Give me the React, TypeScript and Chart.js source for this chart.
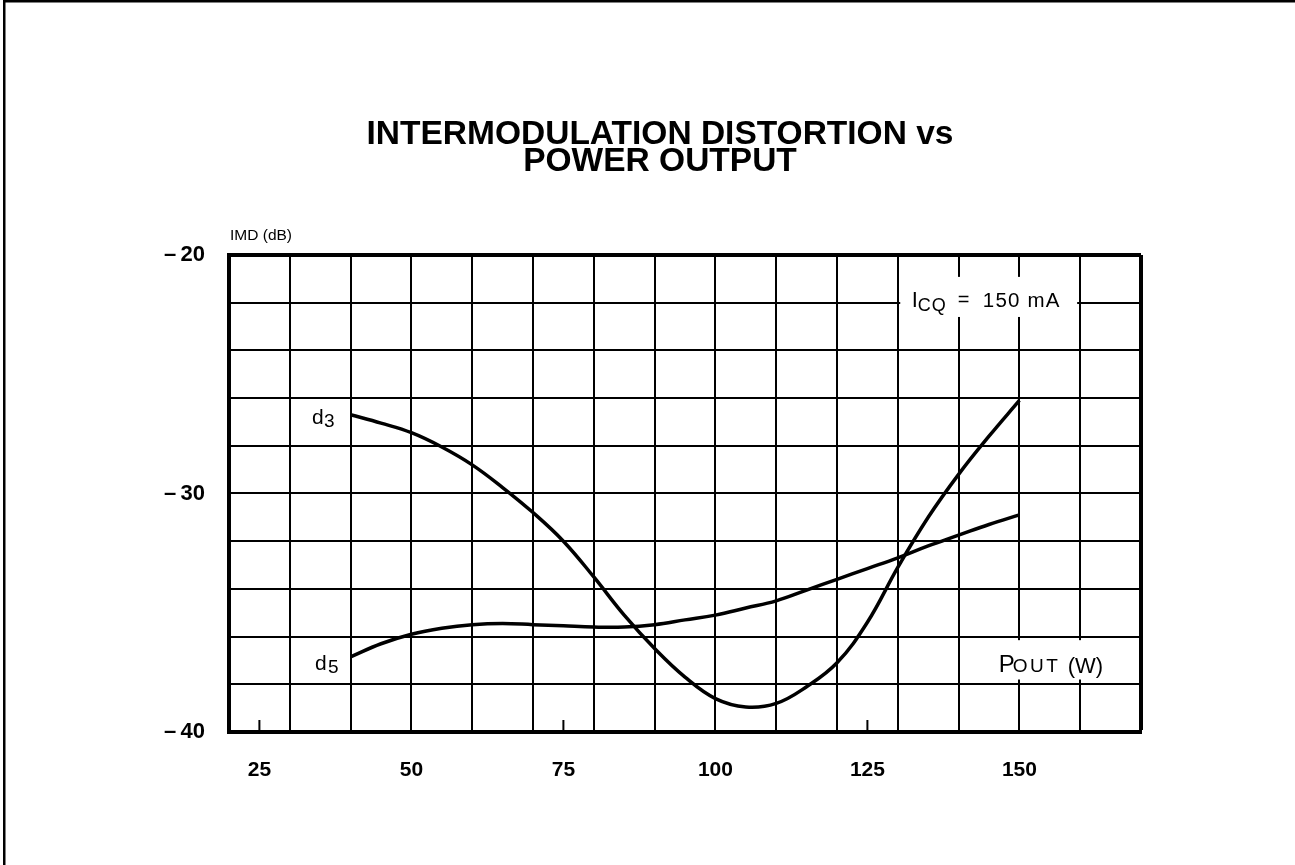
import React, { useEffect, useRef } from "react";
import { Chart, registerables } from "chart.js";

Chart.register(...registerables);

// ---- data ----
const powerOut = [40, 45, 50, 55, 60, 65, 70, 75, 80, 85, 90, 95, 100, 105, 110, 115, 120, 125, 130, 135, 140, 145, 150];
const d3Values = [-26.7, -27.05, -27.45, -28.05, -28.8, -29.75, -30.8, -32.0, -33.5, -35.1, -36.5, -37.7, -38.6, -38.95, -38.8, -38.1, -37.1, -35.4, -33.1, -31.0, -29.2, -27.6, -26.1];
const d5Values = [-36.85, -36.3, -35.9, -35.65, -35.5, -35.45, -35.5, -35.55, -35.6, -35.6, -35.5, -35.3, -35.1, -34.8, -34.5, -34.05, -33.6, -33.15, -32.7, -32.2, -31.75, -31.3, -30.9];
const xTickLabels = [25, 50, 75, 100, 125, 150];
const xMinorMarks = [25, 75, 125];
const yTickLabels = [-20, -30, -40];
const titleLines = ["INTERMODULATION DISTORTION vs", "POWER OUTPUT"];

const FONT = "'Liberation Sans', Arial, Helvetica, sans-serif";

type Part = { text: string; size: number; dx: number; dy: number; ls?: number };

function drawParts(ctx: CanvasRenderingContext2D, x: number, y: number, parts: Part[]) {
  for (const p of parts) {
    ctx.font = `${p.size}px ${FONT}`;
    (ctx as any).letterSpacing = `${p.ls || 0}px`;
    ctx.fillText(p.text, x + p.dx, y + p.dy);
  }
  (ctx as any).letterSpacing = "0px";
}

const decorPlugin = {
  id: "decor",
  beforeDraw(chart: any) {
    const { ctx, width, height } = chart;
    ctx.save();
    ctx.fillStyle = "#fff";
    ctx.fillRect(0, 0, width, height);
    ctx.fillStyle = "#000";
    ctx.fillRect(3, 0, width - 3, 2.5);
    ctx.fillRect(3, 0, 2.5, height);
    ctx.restore();
  },
  beforeDatasetsDraw(chart: any) {
    const { ctx, chartArea } = chart;
    const xs = chart.scales.x;
    const ys = chart.scales.y;
    const px = (v: number) => xs.getPixelForValue(v);
    const py = (v: number) => ys.getPixelForValue(v);
    ctx.save();
    // minor tick marks at bottom
    ctx.strokeStyle = "#000";
    ctx.lineWidth = 2;
    for (const v of xMinorMarks) {
      const x = px(v);
      ctx.beginPath();
      ctx.moveTo(x, chartArea.bottom);
      ctx.lineTo(x, chartArea.bottom - 12);
      ctx.stroke();
    }
    // white boxes behind in-plot labels
    ctx.fillStyle = "#fff";
    ctx.fillRect(px(130.4), py(-20.92), px(159.5) - px(130.4), py(-22.6) - py(-20.92));
    ctx.fillRect(px(146), py(-36.15), px(164.5) - px(146), py(-37.8) - py(-36.15));

    ctx.fillStyle = "#000";
    ctx.textBaseline = "alphabetic";
    ctx.textAlign = "left";
    // axis title
    drawParts(ctx, chartArea.left + 1, chartArea.top - 15, [{ text: "IMD (dB)", size: 15.5, dx: 0, dy: 0 }]);
    // ICQ = 150 mA
    drawParts(ctx, px(132.3), py(-22.18), [
      { text: "I", size: 22, dx: 0, dy: 0 },
      { text: "CQ", size: 18, dx: 6, dy: 4, ls: 1 },
      { text: "=", size: 20, dx: 46, dy: -1 },
      { text: "150 mA", size: 20.5, dx: 71, dy: 0, ls: 1.2 },
    ]);
    // POUT (W)
    drawParts(ctx, px(146.6), py(-37.5), [
      { text: "P", size: 24, dx: 0, dy: 0 },
      { text: "OUT", size: 19, dx: 14, dy: 0, ls: 2.5 },
      { text: "(W)", size: 22, dx: 69, dy: 1 },
    ]);
    // d3 / d5 labels
    drawParts(ctx, px(33.65), py(-27.1), [
      { text: "d", size: 21, dx: 0, dy: 0 },
      { text: "3", size: 19, dx: 12, dy: 3 },
    ]);
    drawParts(ctx, px(33.65), py(-37.38), [
      { text: "d", size: 21, dx: 3, dy: 0 },
      { text: "5", size: 19, dx: 16, dy: 3 },
    ]);
    ctx.restore();
  },
};

export default function App() {
  const ref = useRef<HTMLCanvasElement>(null);
  useEffect(() => {
    if (!ref.current) return;
    const chart = new Chart(ref.current, {
      type: "line",
      data: {
        datasets: [
          {
            label: "d3",
            data: powerOut.map((x, i) => ({ x, y: d3Values[i] })),
            borderColor: "#000",
            borderWidth: 3.5,
            pointRadius: 0,
            tension: 0.4,
            fill: false,
          },
          {
            label: "d5",
            data: powerOut.map((x, i) => ({ x, y: d5Values[i] })),
            borderColor: "#000",
            borderWidth: 3.5,
            pointRadius: 0,
            tension: 0.4,
            fill: false,
          },
        ],
      },
      options: {
        animation: false,
        responsive: false,
        devicePixelRatio: 1,
        layout: { padding: { top: 121, right: 0, bottom: 73, left: 25 } },
        plugins: {
          legend: { display: false },
          tooltip: { enabled: false },
          title: {
            display: true,
            text: titleLines,
            color: "#000",
            font: { family: FONT, size: 33.5, weight: "bold", lineHeight: 0.82 },
            padding: { top: 0, bottom: 79 },
          },
        },
        scales: {
          x: {
            type: "linear",
            min: 20,
            max: 170,
            afterFit: (s: any) => {
              s.height = 60;
            },
            border: { display: true, color: "#000", width: 4 },
            grid: {
              drawTicks: false,
              color: (c: any) => (c.tick && c.tick.value % 10 === 0 ? "#000" : "rgba(0,0,0,0)"),
              lineWidth: (c: any) => (c.tick && c.tick.value === 170 ? 4 : 2),
            },
            ticks: {
              stepSize: 5,
              autoSkip: false,
              maxRotation: 0,
              padding: 26,
              color: "#000",
              font: { family: FONT, size: 21, weight: "bold" },
              callback: (v: any) => (xTickLabels.includes(Number(v)) ? String(v) : ""),
            },
          },
          y: {
            type: "linear",
            min: -40,
            max: -20,
            afterFit: (s: any) => {
              s.width = 204;
            },
            border: { display: true, color: "#000", width: 4 },
            grid: {
              drawTicks: false,
              color: "#000",
              lineWidth: (c: any) => (c.tick && c.tick.value === -20 ? 4 : 2),
            },
            ticks: {
              stepSize: 2,
              autoSkip: false,
              padding: 24,
              color: "#000",
              font: { family: FONT, size: 22, weight: "bold" },
              callback: (v: any) => (yTickLabels.includes(Number(v)) ? "\u2013\u2009" + Math.abs(Number(v)) : ""),
            },
          },
          spacer: {
            type: "linear",
            position: "right",
            display: true,
            afterFit: (s: any) => {
              s.width = 154;
            },
            border: { display: false },
            grid: { display: false, drawTicks: false },
            ticks: { display: false },
          },
        },
      },
      plugins: [decorPlugin],
    } as any);
    return () => chart.destroy();
  }, []);
  return (
    <div style={{ position: "absolute", left: 0, top: 0, width: 1295, height: 865, background: "#fff" }}>
      <canvas ref={ref} width={1295} height={865} style={{ display: "block" }} />
    </div>
  );
}
